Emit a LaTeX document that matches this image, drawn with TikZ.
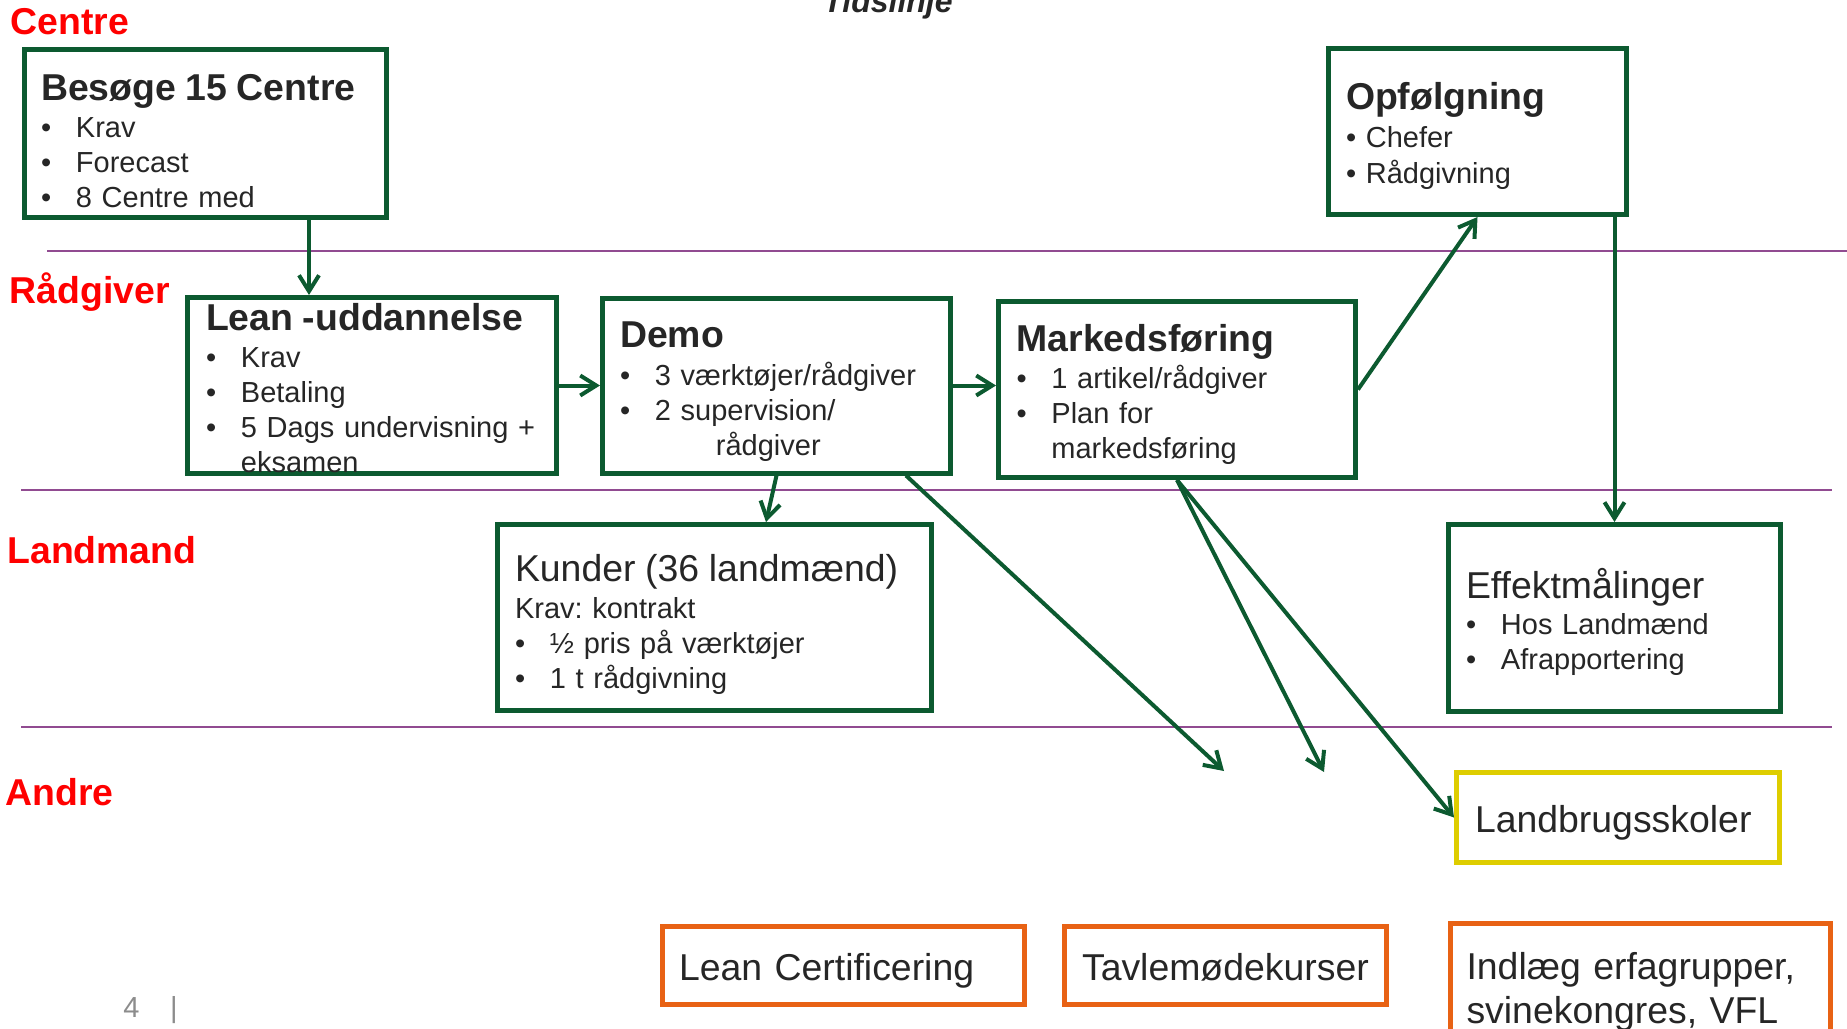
\documentclass[tikz,border=0pt]{standalone}
\usepackage{fontspec}
\setmainfont{Liberation Sans}
\usetikzlibrary{arrows.meta}

\definecolor{dkgreen}{RGB}{12,90,48}
\definecolor{lnorange}{RGB}{232,98,20}
\definecolor{lnyellow}{RGB}{222,205,0}
\definecolor{lnpurple}{RGB}{145,75,145}
\definecolor{txtgray}{RGB}{38,38,38}
\definecolor{pggray}{RGB}{140,140,140}

\newcommand{\bigtxt}{\fontsize{18.7pt}{22pt}\selectfont}
\newcommand{\bodytxt}{\fontsize{14.5pt}{17.5pt}\selectfont}

\begin{document}
\begin{tikzpicture}[x=0.5pt, y=-0.5pt, >={Straight Barb[length=8pt,width=10pt]}]
	\tikzstyle{block} = [draw=dkgreen, rectangle, line width=2.5pt, inner ysep=0pt, align=left, text=txtgray, font=\bodytxt]
	\tikzstyle{other} = [block, draw=lnorange, font=\bigtxt]
	\tikzstyle{lane} = [draw=lnpurple, line width=0.9pt]
	\tikzstyle{role} = [anchor=base west, inner sep=0pt, text=red, font=\bigtxt\bfseries]
	\tikzstyle{flow} = [draw=dkgreen, line width=2pt, ->]

	\useasboundingbox (0,0) rectangle (1847,1028);

	\draw [lane] (47,251) -- (1847,251);
	\draw [lane] (21,490) -- (1832,490);
	\draw [lane] (21,727) -- (1832,727);

	\node [role] (centre) at (10,34) {Centre};
	\node [role] (raadgiver) at (9.5,303) {Rådgiver};
	\node [role] (landmand) at (7,563) {Landmand};
	\node [role] (andre) at (5,805) {Andre};

	\node [anchor=base, inner sep=0pt, text=txtgray, font=\fontsize{16pt}{19pt}\selectfont\bfseries\itshape] (tidslinje) at (888,12) {Tidslinje};

	\node [block, text width=164.5pt, inner xsep=8.25pt, text height=25.25pt, text depth=58.75pt] (besoege) at (205.5,133.5) {%
	  \begin{tabular}[t]{@{}l@{\hspace{12.4pt}}l@{}}
	    \multicolumn{2}{@{}l@{}}{\bigtxt\bfseries Besøge 15 Centre}\\[1pt]
	    \textbullet & Krav\\
	    \textbullet & Forecast\\
	    \textbullet & 8 Centre med
	  \end{tabular}
	};
	\node [block, text width=166pt, inner xsep=9.25pt, text height=16.25pt, text depth=71.75pt] (lean) at (372,385.5) {%
	  \begin{tabular}[t]{@{}l@{\hspace{12.4pt}}l@{}}
	    \multicolumn{2}{@{}l@{}}{\bigtxt\bfseries Lean -uddannelse}\\[1pt]
	    \textbullet & Krav\\
	    \textbullet & Betaling\\
	    \textbullet & 5 Dags undervisning +\\
	    & eksamen
	  \end{tabular}
	};
	\node [block, right of=lean, node distance=202.25pt, text width=156.5pt, inner xsep=8.75pt, text height=24.75pt, text depth=62.75pt] (demo) {%
	  \begin{tabular}[t]{@{}l@{\hspace{12.4pt}}l@{}}
	    \multicolumn{2}{@{}l@{}}{\bigtxt\bfseries Demo}\\[1.5pt]
	    \textbullet & 3 værktøjer/rådgiver\\
	    \textbullet & 2 supervision/\\
	    & \hspace{30.5pt}rådgiver
	  \end{tabular}
	};
	\node [block, text width=160.5pt, inner xsep=9pt, text height=25pt, text depth=63pt] (marked) at (1177,389.5) {%
	  \begin{tabular}[t]{@{}l@{\hspace{12.4pt}}l@{}}
	    \multicolumn{2}{@{}l@{}}{\bigtxt\bfseries Markedsføring}\\[1pt]
	    \textbullet & 1 artikel/rådgiver\\
	    \textbullet & Plan for\\
	    & markedsføring
	  \end{tabular}
	};
	\node [block, text width=131.5pt, inner xsep=8.75pt, text height=30.25pt, text depth=52.75pt] (opfoel) at (1477.5,131.5) {%
	  \begin{tabular}[t]{@{}l@{}}
	    {\bigtxt\bfseries Opfølgning}\\[1.5pt]
	    \textbullet\ Chefer\\[0.5pt]
	    \textbullet\ Rådgivning
	  \end{tabular}
	};
	\node [block, text width=199.5pt, inner xsep=8.75pt, text height=28.25pt, text depth=64.75pt] (kunder) at (714.5,617.5) {%
	  \begin{tabular}[t]{@{}l@{\hspace{12.4pt}}l@{}}
	    \multicolumn{2}{@{}l@{}}{\bigtxt Kunder (36 landmænd)}\\[1pt]
	    \multicolumn{2}{@{}l@{}}{Krav:\ kontrakt}\\
	    \textbullet & ½ pris på værktøjer\\
	    \textbullet & 1 t rådgivning
	  \end{tabular}
	};
	\node [block, text width=148.5pt, inner xsep=8.75pt, text height=36.75pt, text depth=56.75pt] (effekt) at (1614.5,618) {%
	  \begin{tabular}[t]{@{}l@{\hspace{12.4pt}}l@{}}
	    \multicolumn{2}{@{}l@{}}{\bigtxt Effektmålinger}\\[0.5pt]
	    \textbullet & Hos Landmænd\\
	    \textbullet & Afrapportering
	  \end{tabular}
	};
	\node [other, draw=lnyellow, text width=143pt, inner xsep=9.25pt, text height=30pt, text depth=15pt] (landbrug) at (1618,817.5) {Landbrugsskoler};
	\node [other, text width=164.5pt, inner xsep=8.25pt, text height=26.75pt, text depth=12.25pt] (leancert) at (843.5,965.5) {Lean Certificering};
	\node [other, right of=leancert, node distance=191pt, text width=143.5pt, inner xsep=8.75pt, text height=26.75pt, text depth=12.25pt] (tavle) {Tavlemødekurser};
	\node [other, text width=174pt, inner xsep=8pt, text height=27.75pt, text depth=40.5pt] (indlaeg) at (1640.5,991.75) {Indlæg erfagrupper,\\ svinekongres, VFL};

	\node [anchor=base west, inner sep=0pt, text=pggray, font=\bodytxt] (pagenum) at (123,1017) {4\hspace{15.25pt}|};

	\coordinate (tipA) at (1224,771);
	\coordinate (tipB) at (1324,772);

	\draw [flow] ([xshift=51.75pt]besoege.south) -- ([xshift=-31.5pt]lean.north);
	\draw [flow] (lean) -- (demo);
	\draw [flow] (demo.east) -- (demo.east -| marked.west);
	\draw [flow] (marked.east) -- (opfoel.south);
	\draw [flow] (opfoel.south -| effekt.north) -- (effekt.north);
	\draw [flow] (demo.south) -- ([xshift=25.75pt]kunder.north);
	\draw [flow] ([xshift=64.75pt]demo.south) -- (tipA);
	\draw [flow] (marked.south) -- (tipB);
	\draw [flow] (marked.south) -- (landbrug.west);
\end{tikzpicture}
\end{document}
